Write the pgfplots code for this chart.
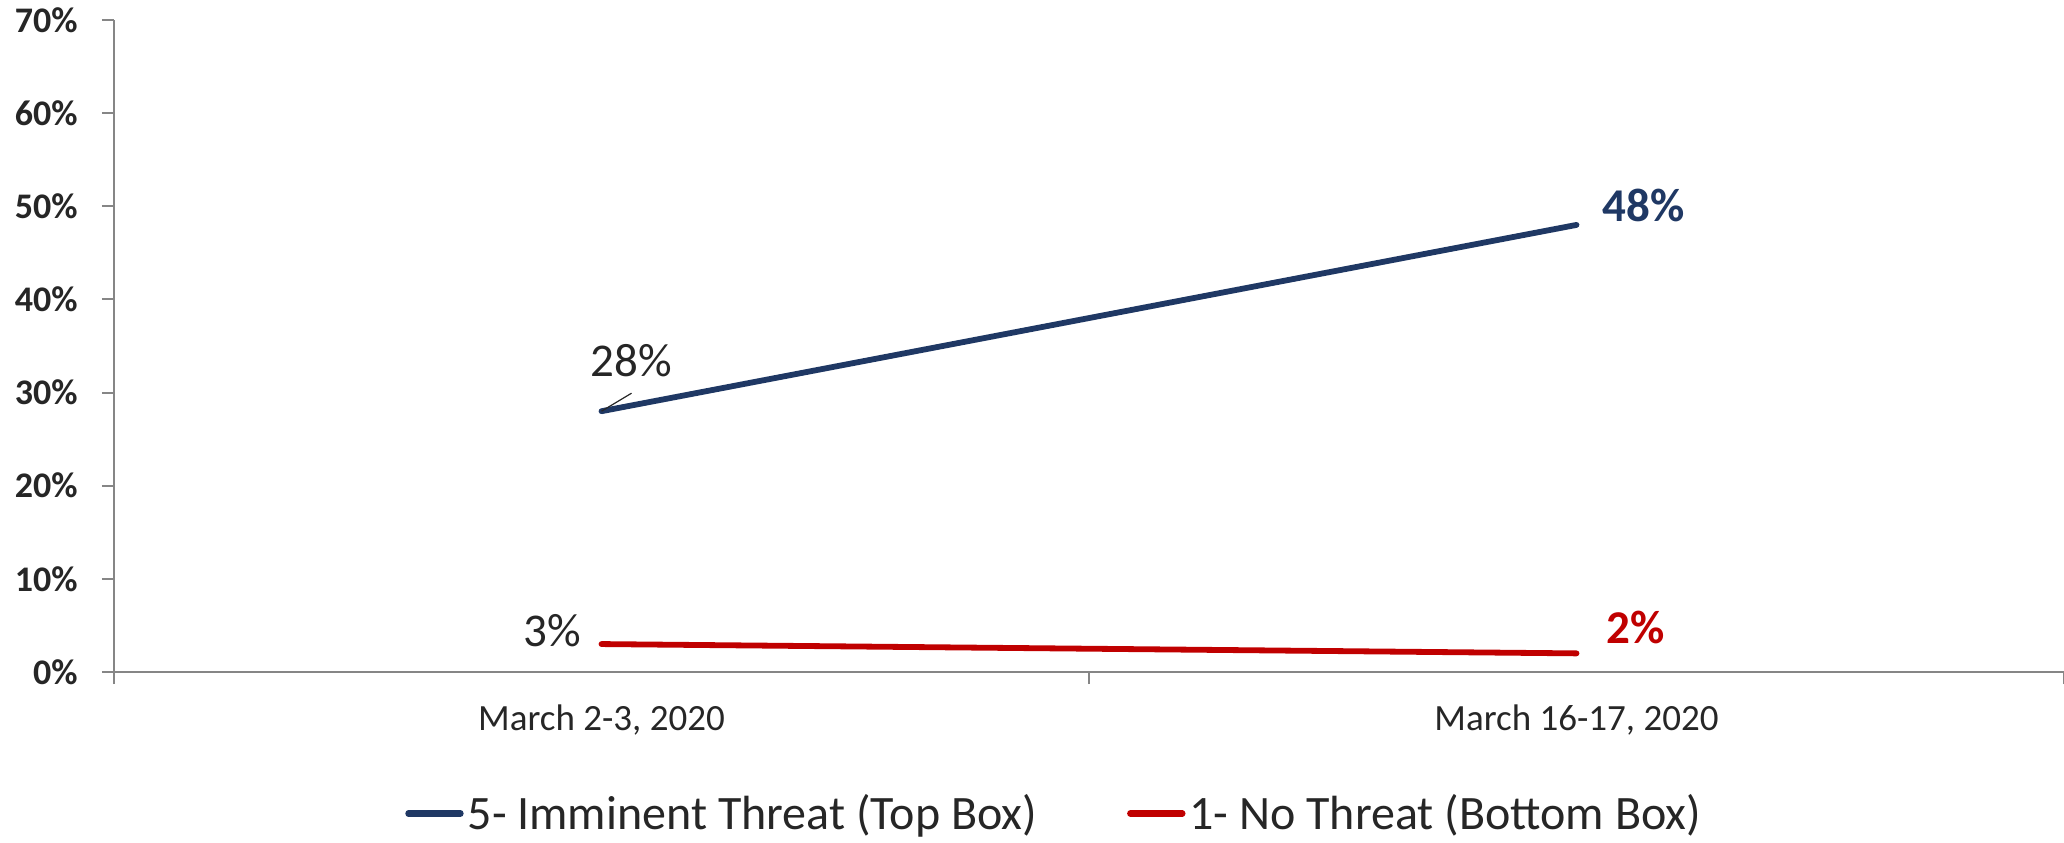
\documentclass[border=0pt]{standalone}
\usepackage{pgfplots}
\pgfplotsset{compat=1.18}
\usepackage{fontspec}
\setmainfont{Carlito}
\definecolor{navy}{HTML}{1F3864}
\definecolor{darkred}{HTML}{C00000}
\definecolor{axgray}{HTML}{868686}
\definecolor{txt}{HTML}{262626}
\begin{document}
\begin{tikzpicture}
\begin{axis}[
  name=ax,
  scale only axis,
  width=975pt, height=326pt,
  xmin=0.5, xmax=2.5, ymin=0, ymax=70,
  axis x line*=bottom, axis y line*=left,
  axis line style={axgray, line width=1pt},
  tick align=outside,
  major tick length=6pt,
  tick style={axgray, line width=1pt},
  xtick={0.5,1.5,2.5},
  xticklabels={},
  extra x ticks={1,2},
  extra x tick labels={{March 2-3, 2020},{March 16-17, 2020}},
  extra x tick style={major tick length=0pt},
  xticklabel style={font=\fontsize{18.5}{22}\selectfont, text=txt, anchor=base, inner sep=0pt, yshift=-29pt},
  ytick={0,10,...,70},
  yticklabels={\textbf{0\%},\textbf{10\%},\textbf{20\%},\textbf{30\%},\textbf{40\%},\textbf{50\%},\textbf{60\%},\textbf{70\%}},
  yticklabel style={font=\fontsize{18}{22}\selectfont, text=txt, anchor=east, inner sep=0pt, xshift=-12pt},
  legend columns=2,
  legend style={at={(0.4826,-0.217)}, anchor=center, draw=none, fill=none,
    font=\fontsize{24}{28}\selectfont, text=txt, inner sep=0pt,
    /tikz/every even column/.append style={column sep=43pt}},
  legend image code/.code={\draw[#1, line cap=round, line width=3.2pt] (0pt,0pt) -- (26pt,0pt);},
]
\addplot[navy, line width=2.9pt, line cap=round] coordinates {(1,28) (2,48)}
  coordinate[pos=0] (p28)
  node[pos=0, anchor=base, xshift=15pt, yshift=17.5pt, inner sep=0pt, font=\fontsize{23.5}{28}\selectfont, text=txt] {28\%}
  node[pos=1, anchor=base west, xshift=11.5pt, yshift=1.5pt, inner sep=0pt, font=\fontsize{23.5}{28}\selectfont, text=navy] {\textbf{48\%}};
\addlegendentry{5- Imminent Threat (Top Box)}
\addplot[darkred, line width=2.9pt, line cap=round] coordinates {(1,3) (2,2)}
  node[pos=0, anchor=base east, xshift=-9pt, yshift=-1pt, inner sep=0pt, font=\fontsize{23.5}{28}\selectfont, text=txt] {3\%}
  node[pos=1, anchor=base west, xshift=13.5pt, yshift=4.7pt, inner sep=0pt, font=\fontsize{23.5}{28}\selectfont, text=darkred] {\textbf{2\%}};
\addlegendentry{1- No Threat (Bottom Box)}
\end{axis}
\draw[txt, line width=0.6pt] (p28) -- ++(15pt,9pt);
\pgfresetboundingbox
\path[use as bounding box] ([xshift=-57pt,yshift=-85pt]ax.south west) rectangle ([yshift=10pt]ax.north east);
\end{tikzpicture}
\end{document}
